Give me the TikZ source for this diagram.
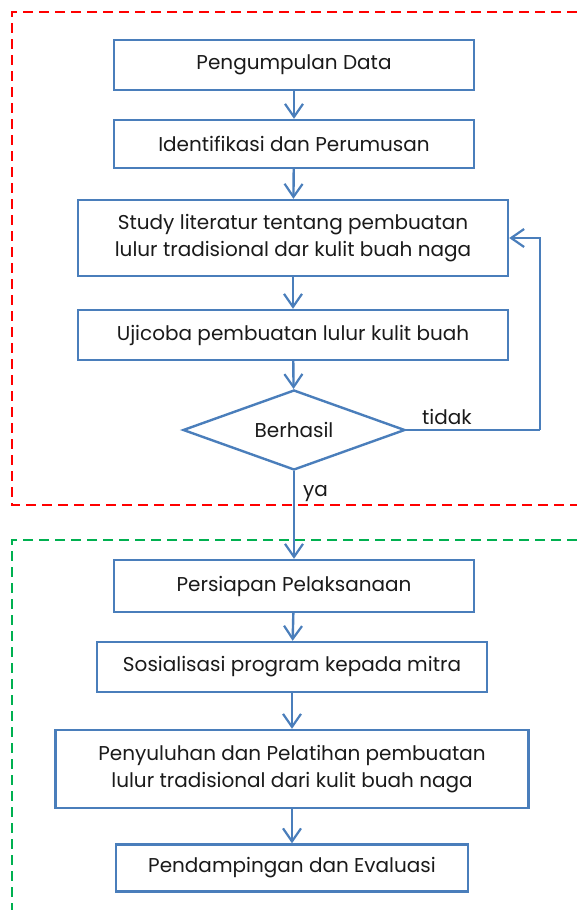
\documentclass[tikz,border=0pt]{standalone}
\usepackage{fontspec}
\setmainfont{Poppins}
\usetikzlibrary{shapes.geometric,arrows.meta}
\definecolor{flowblue}{HTML}{4A7EBB}
\definecolor{dashred}{HTML}{FF0000}
\definecolor{dashgreen}{HTML}{00B050}
\definecolor{txt}{HTML}{1A1A1A}
\tikzset{
  px/.style={x=1pt,y=-1pt},
  box/.style={draw=flowblue,line width=2.4pt,minimum height=#1,align=center,text=txt,font=\fontsize{20}{27}\selectfont,inner sep=0pt},
  conn/.style={draw=flowblue,line width=2.4pt,-{Straight Barb[length=13pt,width=18pt,line width=2.2pt]}},
  plainconn/.style={draw=flowblue,line width=2.4pt},
  frame/.style={line width=2.5pt,dash pattern=on 10pt off 6pt},
  lbl/.style={font=\fontsize{20}{24}\selectfont,text=txt,inner sep=0pt}
}
\begin{document}
\begin{tikzpicture}[px]
\useasboundingbox (0,0) rectangle (577,910);
% frames
\draw[frame,dashred] (577,12) -- (12,12) -- (12,505) -- (577,505);
\draw[frame,dashgreen] (577,540) -- (12,540) -- (12,910);
% nodes
\node[box=50pt,minimum width=360pt] (a) at (294,65) {Pengumpulan Data};
\node[box=48pt,minimum width=360pt] (b) at (294,144) {Identifikasi dan Perumusan};
\node[box=76pt,minimum width=430pt] (c) at (293,238) {Study literatur tentang pembuatan\\lulur tradisional dar kulit buah naga};
\node[box=50pt,minimum width=430pt] (d) at (293,335) {Ujicoba pembuatan lulur kulit buah};
\node[draw=flowblue,line width=2.4pt,diamond,aspect=2.8,minimum width=222pt,minimum height=80pt,inner sep=0pt,text=txt,font=\fontsize{20}{24}\selectfont] (e) at (294,430) {Berhasil};
\node[box=52pt,minimum width=360pt] (f) at (294,586) {Persiapan Pelaksanaan};
\node[box=50pt,minimum width=390pt] (g) at (292,667) {Sosialisasi program kepada mitra};
\node[box=78pt,minimum width=473pt] (h) at (292,769) {Penyuluhan dan Pelatihan pembuatan\\lulur tradisional dari kulit buah naga};
\node[box=47pt,minimum width=352pt] (i) at (292,868) {Pendampingan dan Evaluasi};
\coordinate (r1) at (540,430);
\coordinate (r2) at (540,238);
% connectors
\draw[conn] (a) -- (b);
\draw[conn] (b) -- (c);
\draw[conn] (c) -- (d);
\draw[conn] (d) -- (e);
\draw[conn] (e.south) -- (f.north);
\draw[conn] (f) -- (g);
\draw[conn] (g) -- (h);
\draw[conn] (h) -- (i);
\draw[plainconn] (e.east) -- (r1);
\draw[conn] (r1) -- (r2) -- (c.east);
% labels
\node[lbl,anchor=base west] (tl) at (422,424) {tidak};
\node[lbl,anchor=base west] (yl) at (303,496) {ya};
\end{tikzpicture}
\end{document}
